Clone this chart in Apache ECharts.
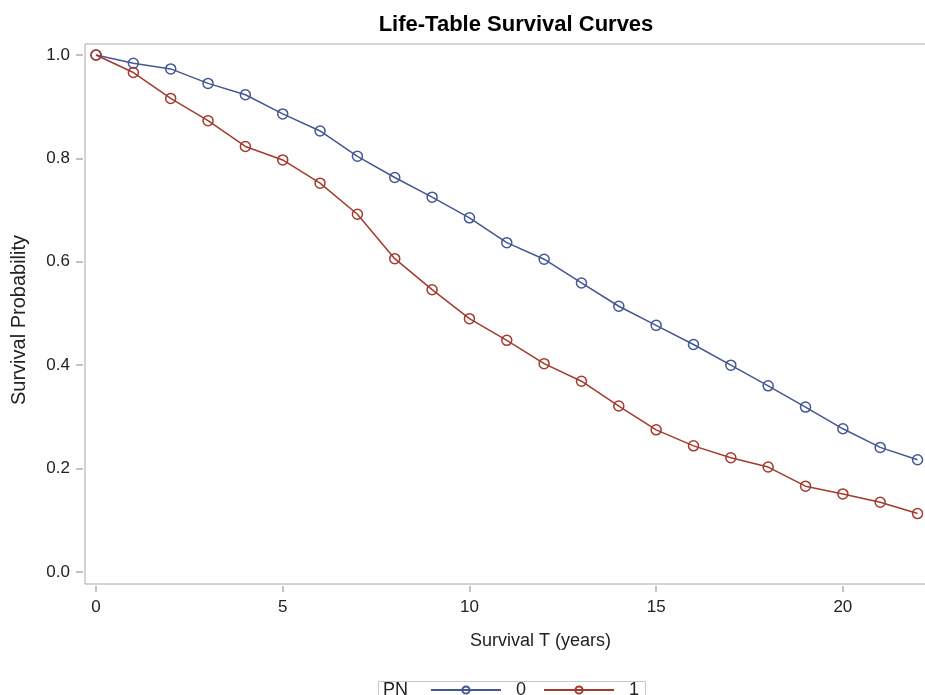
<!DOCTYPE html>
<html>
<head>
<meta charset="utf-8">
<script src="https://cdn.jsdelivr.net/npm/echarts@6/dist/echarts.min.js"></script>
<style>
html,body{margin:0;padding:0;background:#fff;}
#chart{width:925px;height:695px;}
</style>
</head>
<body>
<div id="chart"></div>
<script>
var years = [0,1,2,3,4,5,6,7,8,9,10,11,12,13,14,15,16,17,18,19,20,21,22];
var survPN0 = [1.000,0.984,0.973,0.945,0.923,0.886,0.853,0.804,0.763,0.725,0.685,0.637,0.605,0.559,0.514,0.477,0.440,0.400,0.360,0.319,0.277,0.241,0.217];
var survPN1 = [1.000,0.966,0.916,0.873,0.823,0.797,0.752,0.692,0.606,0.546,0.490,0.448,0.403,0.369,0.321,0.275,0.244,0.221,0.203,0.166,0.151,0.135,0.113];
var xTicks = [0,5,10,15,20];
var yTicks = [0.0,0.2,0.4,0.6,0.8,1.0];
var groupNames = ['0','1'];

var FONT = '"Liberation Sans", Arial, sans-serif';
var BLUE = '#445694';
var RED = '#A23A2E';
var TXT = '#222';

function pairs(xs, ys){ return xs.map(function(x,i){ return [x, ys[i]]; }); }

function mkSeries(name, vals, color){
  return {
    name: name,
    type: 'line',
    data: pairs(years, vals),
    symbol: 'circle',
    symbolSize: 10,
    showAllSymbol: true,
    lineStyle: {color: color, width: 1.5},
    itemStyle: {color: 'rgba(255,255,255,0)', borderColor: color, borderWidth: 1.5},
    emphasis: {disabled: true},
    animation: false
  };
}

var chart = echarts.init(document.getElementById('chart'), null, {renderer: 'canvas'});
chart.setOption({
  backgroundColor: '#fff',
  animation: false,
  title: {
    text: 'Life-Table Survival Curves',
    left: 511, top: 9, textAlign: 'center',
    textStyle: {fontFamily: FONT, fontSize: 22, fontWeight: 'bold', color: '#000'}
  },
  grid: {
    left: 85, top: 44, right: -3, bottom: 111,
    outerBoundsMode: 'none',
    containLabel: false,
    show: true, borderColor: '#a8a8a8', borderWidth: 1, backgroundColor: '#fff'
  },
  xAxis: {
    type: 'value',
    min: -0.295, max: 22.28,
    offset: 2,
    axisLine: {show: false, onZero: false},
    splitLine: {show: false},
    axisTick: {show: true, inside: false, customValues: xTicks, length: 6, lineStyle: {color: '#b0b0b0', width: 1.5}},
    axisLabel: {customValues: xTicks, margin: 13, fontFamily: FONT, fontSize: 17, color: TXT},
    name: 'Survival T (years)',
    nameLocation: 'middle',
    nameGap: 46,
    nameTextStyle: {fontFamily: FONT, fontSize: 18, color: TXT, padding: [0, 0, 0, 68]}
  },
  yAxis: {
    type: 'value',
    min: -0.0232, max: 1.0212,
    offset: 2,
    axisLine: {show: false, onZero: false},
    splitLine: {show: false},
    axisTick: {show: true, inside: false, customValues: yTicks, length: 7, lineStyle: {color: '#b0b0b0', width: 1.5}},
    axisLabel: {customValues: yTicks, margin: 13, fontFamily: FONT, fontSize: 17, color: TXT,
      formatter: function(v){ return v.toFixed(1); }},
    name: 'Survival Probability',
    nameLocation: 'middle',
    nameGap: 54,
    nameRotate: 90,
    nameTextStyle: {fontFamily: FONT, fontSize: 20, color: TXT, padding: [0, 12, 0, 0]}
  },
  legend: {
    data: groupNames,
    left: 430, top: 681,
    padding: 0,
    itemWidth: 70, itemHeight: 9,
    itemGap: 17,
    textStyle: {fontFamily: FONT, fontSize: 18, color: TXT, padding: [0,0,0,10]},
    selectedMode: false
  },
  graphic: [
    {type: 'rect', left: 376, top: 679, shape: {width: 267, height: 30},
     style: {fill: 'none', stroke: '#c8c8c8', lineWidth: 1}, silent: true},
    {type: 'text', left: 383, top: 681,
     style: {text: 'PN', font: '18px ' + FONT, fill: TXT}, silent: true}
  ],
  series: [
    mkSeries(groupNames[0], survPN0, BLUE),
    mkSeries(groupNames[1], survPN1, RED)
  ]
});
</script>
</body>
</html>
